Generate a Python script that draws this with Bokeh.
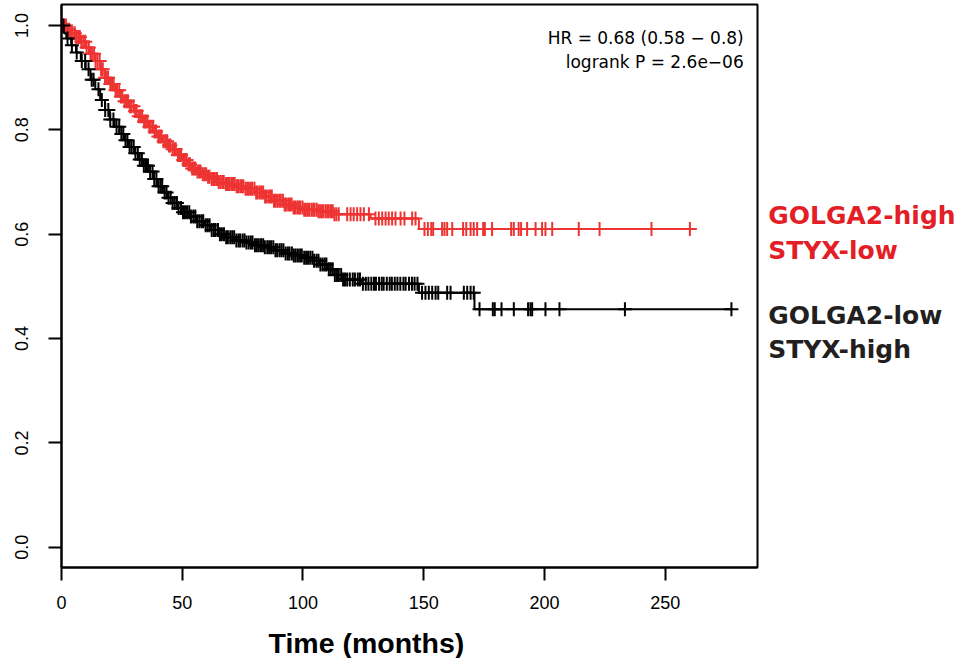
import numpy as np
from bokeh.plotting import figure
from bokeh.layouts import row
from bokeh.models import Range1d, FixedTicker, PrintfTickFormatter, Label, Title
from bokeh.core.properties import value
from bokeh.embed import file_html
from bokeh.resources import INLINE

# ---------------- data ----------------
red_time = [0, 2, 4, 6, 8, 10, 12, 14, 16, 18, 20, 22, 24, 26, 28, 30, 32, 34, 36, 38, 40,
            42, 44, 46, 48, 50, 52, 54, 56, 58, 60, 62, 65, 68, 72, 76, 80, 84, 88, 92, 96,
            100, 106, 113, 128, 148, 260.2]
red_surv = [1.0, 0.992, 0.985, 0.978, 0.969, 0.958, 0.946, 0.932, 0.916, 0.900, 0.888,
            0.876, 0.864, 0.855, 0.845, 0.836, 0.826, 0.816, 0.806, 0.797, 0.787, 0.778,
            0.770, 0.763, 0.752, 0.742, 0.734, 0.726, 0.720, 0.715, 0.710, 0.706, 0.700,
            0.696, 0.692, 0.687, 0.680, 0.672, 0.664, 0.657, 0.651, 0.647, 0.644, 0.638,
            0.630, 0.610, 0.610]
red_censor = [0.4, 1.1, 1.9, 2.5, 3.2, 4.0, 4.6, 5.5, 6.1, 6.9, 7.6, 8.2, 9.0, 9.8, 10.4, 11.3,
              12.0, 12.6, 13.5, 14.1, 14.9, 15.8, 16.4, 17.1, 18.0, 18.7, 19.3, 20.2, 20.9,
              21.6, 22.4, 23.0, 23.9, 24.6, 25.2, 26.1, 26.8, 27.5, 28.3, 28.9, 29.8, 30.5,
              31.1, 32.0, 32.7, 33.4, 34.2, 34.9, 35.6, 36.4, 37.0, 37.9, 38.6, 39.2, 40.1,
              40.8, 41.4, 42.3, 43.0, 43.7, 44.5, 45.1, 46.0, 46.7, 47.3, 48.2, 48.9, 49.5,
              50.4, 51.1, 51.8, 52.6, 53.2, 54.1, 54.8, 55.4, 56.3, 57.0, 57.6, 58.5, 59.2,
              59.9, 60.7, 61.3, 62.2, 62.9, 63.5, 64.4, 65.1, 65.8, 66.6, 67.2, 68.1, 68.8,
              69.4, 70.3, 71.0, 71.7, 72.5, 73.1, 74.0, 74.7, 75.3, 76.2, 76.9, 77.6, 78.4,
              79.0, 79.9, 80.6, 81.2, 82.1, 82.8, 83.5, 84.3, 84.9, 85.8, 86.5, 87.1, 88.0,
              88.7, 89.4, 90.2, 90.8, 91.7, 92.4, 93.0, 93.9, 94.6, 95.3, 96.1, 96.7, 97.6,
              98.3, 98.9, 99.8, 100.5, 101.2, 102.0, 102.6, 103.5, 104.2, 104.8, 105.7,
              106.4, 107.1, 107.9, 108.5, 109.4, 110.1, 110.7, 111.6, 112.3, 113.0, 113.8,
              114.8, 118.3, 119.7, 121.0, 122.4, 123.8, 125.2, 127.3, 130.0, 131.4, 132.8,
              134.2, 135.5, 136.9, 138.3, 140.4, 142.0, 145.2, 146.6, 150.3, 151.7, 153.1,
              153.9, 157.6, 158.6, 159.7, 161.8, 166.3, 167.6, 169.4, 170.7, 172.1, 174.6,
              175.3, 178.3, 186.2, 187.3, 189.3, 190.3, 192.8, 196.3, 199.0, 200.4, 203.2,
              214.2, 222.8, 244.3, 260.2]

black_time = [0, 1, 2, 4, 6, 8, 10, 12, 14, 16, 18, 20, 22, 24, 26, 28, 30, 32, 34, 36, 38,
              40, 42, 44, 46, 48, 50, 53, 56, 59, 62, 65, 68, 72, 76, 80, 84, 88, 92, 96,
              100, 104, 107, 110, 113, 116, 124, 148, 171, 278]
black_surv = [1.0, 0.985, 0.975, 0.962, 0.948, 0.932, 0.916, 0.896, 0.878, 0.857, 0.838,
              0.820, 0.806, 0.792, 0.780, 0.767, 0.755, 0.743, 0.731, 0.720, 0.706, 0.692,
              0.680, 0.670, 0.660, 0.650, 0.642, 0.634, 0.625, 0.617, 0.608, 0.600, 0.594,
              0.588, 0.584, 0.579, 0.575, 0.569, 0.563, 0.559, 0.555, 0.549, 0.542, 0.533,
              0.522, 0.513, 0.505, 0.488, 0.456, 0.456]
black_censor = [0.8, 2.5, 4.3, 6.3, 8.4, 9.8, 11.2, 12.5, 13.3, 15.3, 16.7, 18.1, 19.4, 20.2,
                21.5, 22.8, 23.9, 24.8, 25.6, 26.5, 27.3, 28.2, 29.0, 29.9, 30.6, 31.6, 32.4,
                33.3, 34.1, 35.0, 35.8, 36.7, 37.7, 38.4, 39.3, 40.2, 41.0, 41.7, 42.7, 43.5,
                44.3, 45.2, 46.0, 46.9, 47.8, 48.5, 49.5, 50.3, 51.1, 52.0, 52.9, 53.6, 54.6,
                55.4, 56.2, 57.1, 58.0, 58.7, 59.7, 60.5, 61.3, 62.2, 63.1, 63.8, 64.8, 65.6,
                66.4, 67.3, 68.2, 68.9, 69.9, 70.7, 71.5, 72.4, 73.3, 74.0, 75.0, 75.8, 76.6,
                77.5, 78.4, 79.1, 80.1, 80.9, 81.7, 82.6, 83.5, 84.2, 85.2, 86.0, 86.8, 87.7,
                88.6, 89.3, 90.3, 91.1, 91.9, 92.8, 93.7, 94.4, 95.4, 96.2, 97.0, 97.9, 98.8,
                99.5, 100.5, 101.3, 102.1, 103.0, 103.9, 104.6, 105.6, 106.4, 107.2, 108.1,
                109.0, 109.7, 110.7, 111.5, 112.3, 113.2, 114.1, 114.8, 115.8, 116.6, 117.4,
                118.3, 119.4, 120.6, 121.5, 122.7, 123.6, 124.8, 126.0, 127.1, 128.3, 129.4,
                130.2, 131.5, 132.6, 133.4, 134.7, 135.9, 136.8, 138.0, 139.1, 140.3, 141.6,
                142.5, 143.9, 145.1, 146.2, 147.4, 149.3, 150.7, 152.1, 153.5, 154.9, 156.0,
                159.7, 161.1, 166.6, 168.0, 169.4, 170.7, 173.1, 178.6, 179.4, 182.2, 187.3,
                193.2, 194.2, 194.9, 200.4, 206.2, 233.3, 277.4]

x_ticks = [0, 50, 100, 150, 200, 250]
y_ticks = [0.0, 0.2, 0.4, 0.6, 0.8, 1.0]
x_title = "Time (months)"
stat_lines = ["HR = 0.68 (0.58 \u2212 0.8)", "logrank P = 2.6e\u221206"]
group_labels = ["GOLGA2-high", "STYX-low", "GOLGA2-low", "STYX-high"]

RED = "#EE3333"
RED_TXT = "#E31E26"
BLACK = "#000000"
BLACK_TXT = "#231F20"
FONT = "Liberation Sans"

W, H = 957, 658
MAIN_W = 760
BORDER_L, BORDER_T = 61, 4
FRAME_BOTTOM = 568


def censor_y(times, surv, cens):
    t = np.asarray(times)
    s = np.asarray(surv)
    idx = np.searchsorted(t, np.asarray(cens), side="right") - 1
    return s[np.clip(idx, 0, len(s) - 1)]


def px_to_y(py):
    # page pixel row -> survival value (0.0 at row 547.7, 1.0 at row 25)
    return (547.7 - py) / 522.7


p = figure(width=MAIN_W, height=H,
           x_range=Range1d(0, 288.2), y_range=Range1d(-0.0388, 1.0402),
           output_backend="svg", toolbar_location=None,
           min_border_left=BORDER_L, min_border_right=MAIN_W - 757,
           min_border_top=BORDER_T, min_border_bottom=H - FRAME_BOTTOM)
p.background_fill_color = "white"
p.border_fill_color = "white"
p.outline_line_color = "black"
p.outline_line_width = 2
p.outline_line_alpha = 1.0
p.grid.visible = False

for ax in (p.xaxis[0], p.yaxis[0]):
    ax.major_tick_in = 0
    ax.major_tick_out = 13
    ax.minor_tick_out = 0
    ax.minor_tick_in = 0
    ax.major_tick_line_width = 2
    ax.major_tick_line_color = "black"
    ax.axis_line_color = "black"
    ax.axis_line_width = 2
    ax.major_label_text_font = FONT
    ax.major_label_text_font_size = "18px"
    ax.major_label_text_color = "black"

p.xaxis[0].ticker = FixedTicker(ticks=x_ticks)
p.xaxis[0].major_label_standoff = 15
p.yaxis[0].ticker = FixedTicker(ticks=y_ticks)
p.yaxis[0].formatter = PrintfTickFormatter(format="%.1f")
p.yaxis[0].major_label_orientation = "vertical"
p.yaxis[0].major_label_standoff = 20

# x-axis title: a thin spacer, then the title itself, stacked below the axis
p.add_layout(Title(text=" ", text_font_size="1px", standoff=10), "below")
p.add_layout(Title(text=x_title, align="left", offset=268 - BORDER_L, standoff=0,
                   vertical_align="bottom", text_font=FONT, text_font_style="bold",
                   text_font_size="28.5px", text_color="black"), "below")

# curves
p.step(x=red_time, y=red_surv, mode="after", line_color=RED, line_width=2)
p.scatter(x=red_censor, y=censor_y(red_time, red_surv, red_censor), marker="cross",
          size=14, line_color=RED, line_width=2)
p.step(x=black_time, y=black_surv, mode="after", line_color=BLACK, line_width=2)
p.scatter(x=black_censor, y=censor_y(black_time, black_surv, black_censor), marker="cross",
          size=14, line_color=BLACK, line_width=2)

# statistics text inside the frame
p.add_layout(Label(x=282.5, y=px_to_y(37.3), text=stat_lines[0], text_align="right",
                   text_baseline="alphabetic", text_font="DejaVu Sans",
                   text_font_size="17px", text_color="black"))
p.add_layout(Label(x=282.5, y=px_to_y(61.7), text=stat_lines[1], text_align="right",
                   text_baseline="alphabetic", text_font="DejaVu Sans",
                   text_font_size="17px", text_color="black"))

# group labels in a side panel sharing the survival axis range
side = figure(width=W - MAIN_W, height=H, x_range=Range1d(MAIN_W, W),
              y_range=p.y_range, output_backend="svg", toolbar_location=None,
              x_axis_location=None, y_axis_location=None,
              min_border_left=0, min_border_right=0,
              min_border_top=BORDER_T, min_border_bottom=H - FRAME_BOTTOM)
side.outline_line_color = None
side.grid.visible = False
side.background_fill_color = "white"
side.border_fill_color = "white"
side.text(x=[767.7] * 4, y=[px_to_y(v) for v in (215, 250, 316, 350)], text=group_labels,
          text_color=[RED_TXT, RED_TXT, BLACK_TXT, BLACK_TXT],
          text_font=value("DejaVu Sans"), text_font_style="bold",
          text_font_size="25px", text_baseline="alphabetic", text_align="left")

layout = row(p, side, spacing=0)
open("out.html", "w").write(file_html(layout, INLINE))
